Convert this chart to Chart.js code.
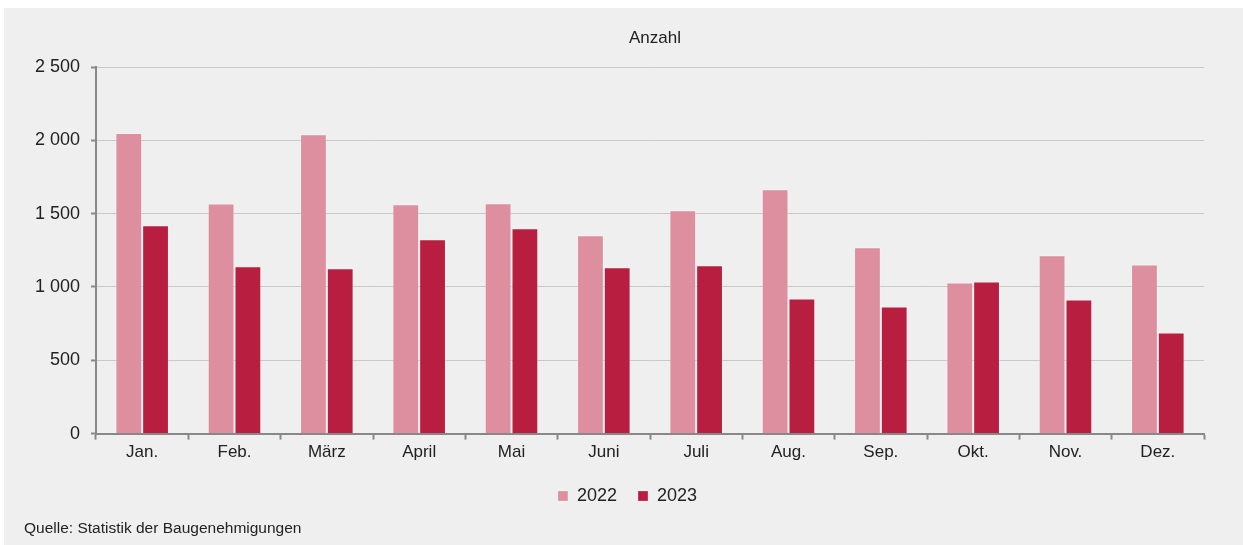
<!DOCTYPE html>
<html lang="de">
<head>
  <meta charset="UTF-8">
  <title>Baugenehmigungen</title>
  <script src="https://cdn.jsdelivr.net/npm/chart.js"></script>
  <style>
    body { margin: 0; background: #fff; font-family: "Liberation Sans", Arial, sans-serif; }
    #panel { position: absolute; left: 4px; top: 8px; width: 1239px; height: 537px; background: #eeefee; }
    #chart { position: absolute; left: 0; top: 0; }
    #quelle { position: absolute; left: 20px; top: 511px; font-size: 15.5px; color: #222; }
  </style>
</head>
<body>
  <div id="panel">
    <canvas id="chart" width="1239" height="537"></canvas>
    <div id="quelle">Quelle: Statistik der Baugenehmigungen</div>
  </div>

  <script>
    const monate = ['Jan.', 'Feb.', 'März', 'April', 'Mai', 'Juni', 'Juli', 'Aug.', 'Sep.', 'Okt.', 'Nov.', 'Dez.'];
    const werte2022 = [2050, 1570, 2042, 1564, 1571, 1352, 1523, 1667, 1270, 1031, 1216, 1154];
    const werte2023 = [1421, 1141, 1127, 1325, 1400, 1134, 1148, 922, 867, 1038, 915, 690];

    const fontFam = '"Liberation Sans", Arial, sans-serif';

    // Überschrift "Anzahl" über der Zeichenfläche
    const anzahlTitel = {
      id: 'anzahlTitel',
      afterDraw(chart) {
        const { ctx, chartArea } = chart;
        ctx.save();
        ctx.font = '17px ' + fontFam;
        ctx.fillStyle = '#222';
        ctx.textAlign = 'center';
        ctx.textBaseline = 'middle';
        ctx.fillText('Anzahl', (chartArea.left + chartArea.right) / 2 + 5, 30);
        ctx.restore();
      }
    };

    // Legende auf die Mitte der Fläche schieben
    const legendeMitte = {
      id: 'legendeMitte',
      afterLayout(chart) {
        const lg = chart.legend;
        const d = (chart.width - (lg.left + lg.right)) / 2 + 4;
        lg.left += d;
        lg.right += d;
      }
    };

    const fmt = v => String(v).replace(/\B(?=(\d{3})+(?!\d))/g, ' ');

    new Chart(document.getElementById('chart'), {
      type: 'bar',
      data: {
        labels: monate,
        datasets: [
          { label: '2022', data: werte2022, backgroundColor: '#de8f9f', borderColor: 'rgba(255,255,255,0.25)', borderWidth: 1 },
          { label: '2023', data: werte2023, backgroundColor: '#b81e3f', borderColor: 'rgba(255,255,255,0.25)', borderWidth: 1 }
        ]
      },
      options: {
        responsive: false,
        animation: false,
        layout: { padding: { left: 0, right: 39, top: 59, bottom: 30 } },
        datasets: { bar: { categoryPercentage: 0.58, barPercentage: 1 } },
        plugins: {
          title: { display: false },
          tooltip: { enabled: false },
          legend: {
            position: 'bottom',
            labels: { boxWidth: 10, boxHeight: 10, padding: 21, color: '#222', font: { family: fontFam, size: 18 } }
          }
        },
        scales: {
          x: {
            grid: { drawOnChartArea: false, tickLength: 6, tickColor: '#888', tickWidth: 2 },
            border: { color: '#888', width: 2 },
            ticks: { color: '#222', padding: 3, font: { family: fontFam, size: 17 } }
          },
          y: {
            min: 0, max: 2500,
            afterFit(scale) { scale.width = 92; },
            grid: { color: '#c8c8c8', tickLength: 5, tickColor: '#888', tickWidth: 2 },
            border: { color: '#888', width: 2 },
            ticks: { stepSize: 500, color: '#222', padding: 11, font: { family: fontFam, size: 18 }, callback: fmt }
          }
        }
      },
      plugins: [anzahlTitel, legendeMitte]
    });
  </script>
</body>
</html>
